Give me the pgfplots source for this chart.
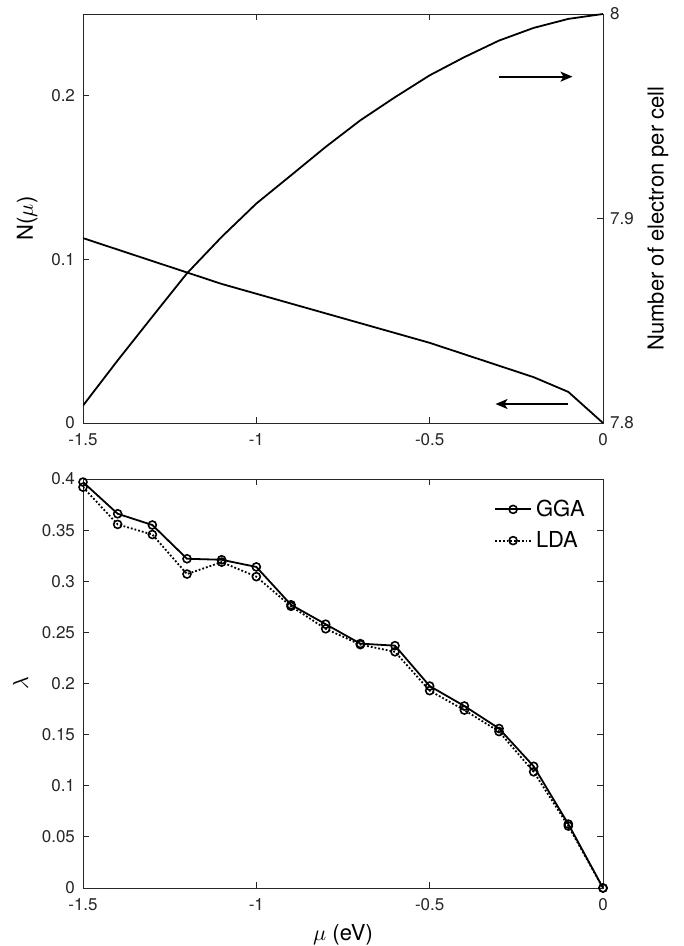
\documentclass[border=0pt]{standalone}
\usepackage{pgfplots}
\pgfplotsset{compat=1.18}
\usepackage{fontspec}
\setmainfont{TeX Gyre Heros}
\usetikzlibrary{arrows.meta}
\definecolor{axgray}{gray}{0.15}

\pgfplotsset{
  mystyle/.style={
    scale only axis, width=260pt, height=204.5pt,
    xmin=-1.5, xmax=0,
    xtick={-1.5,-1,-0.5,0},
    tick align=inside,
    major tick length=3pt,
    axis line style={axgray, line width=0.45pt},
    every tick/.style={axgray, line width=0.45pt},
    tick label style={font=\fontsize{8.5}{10}\selectfont, text=axgray},
    xticklabel style={yshift=-1.5pt},
    yticklabel style={xshift=-0.5pt},
    label style={font=\fontsize{11}{13}\selectfont},
    /pgf/number format/assume math mode=true,
  }
}

\begin{document}
\begin{tikzpicture}
\useasboundingbox (-41.5pt,-29pt) rectangle (300.5pt,444pt);

% ---------- top panel, left axis ----------
\begin{axis}[mystyle, at={(0pt,232.5pt)}, anchor=south west,
  ymin=0, ymax=0.25, ytick={0,0.1,0.2},
  ytick pos=left, xtick pos=both, xticklabel pos=bottom,
  ylabel={N($\mu$)}]
\addplot[black, line width=0.9pt] coordinates {
(-1.5,0.113) (-1.4,0.106) (-1.3,0.099) (-1.2,0.092) (-1.1,0.085)
(-1.0,0.079) (-0.9,0.073) (-0.8,0.067) (-0.7,0.061) (-0.6,0.055)
(-0.5,0.049) (-0.4,0.042) (-0.3,0.035) (-0.2,0.028) (-0.1,0.019) (0,0)};
\draw[black, line width=0.9pt, -{Stealth[length=6pt,width=5pt,inset=1.5pt]}]
  (axis cs:-0.30,0.2117) -- (axis cs:-0.088,0.2117);
\draw[black, line width=0.9pt, -{Stealth[length=6pt,width=5pt,inset=1.5pt]}]
  (axis cs:-0.10,0.0116) -- (axis cs:-0.31,0.0116);
\end{axis}

% ---------- top panel, right axis ----------
\begin{axis}[mystyle, at={(0pt,232.5pt)}, anchor=south west,
  ymin=7.8, ymax=8, ytick={7.8,7.9,8},
  axis y line*=right, axis x line=none,
  yticklabel style={xshift=0.5pt},
  ylabel={Number of electron per cell}]
\addplot[black, line width=0.9pt] coordinates {
(-1.5,7.8085) (-1.4,7.8306) (-1.3,7.852) (-1.2,7.8732) (-1.1,7.891)
(-1.0,7.9073) (-0.9,7.9211) (-0.8,7.935) (-0.7,7.948) (-0.6,7.9593)
(-0.5,7.970) (-0.4,7.9789) (-0.3,7.987) (-0.2,7.9932) (-0.1,7.9976) (0,8.0)};
\end{axis}

% ---------- bottom panel ----------
\begin{axis}[mystyle, at={(0pt,0pt)}, anchor=south west,
  ymin=0, ymax=0.4,
  ytick={0,0.05,0.1,0.15,0.2,0.25,0.3,0.35,0.4},
  yticklabels={0,0.05,0.1,0.15,0.2,0.25,0.3,0.35,0.4},
  xtick pos=both, ytick pos=both, xticklabel pos=bottom, yticklabel pos=left,
  xlabel={$\mu$ (eV)}, ylabel={$\lambda$},
  legend style={draw=none, fill=none, at={(0.985,0.97)}, anchor=north east,
    font=\fontsize{11}{13}\selectfont, row sep=2pt},
  legend cell align=left,
  legend image code/.code={\draw[mark repeat=2,mark phase=2,#1]
    plot coordinates {(0pt,0pt)(9pt,0pt)(18pt,0pt)};}]
\addplot[black, line width=0.9pt, mark=o, mark size=2pt,
  mark options={solid, line width=0.8pt}] coordinates {
(-1.5,0.397) (-1.4,0.366) (-1.3,0.355) (-1.2,0.322) (-1.1,0.321)
(-1.0,0.314) (-0.9,0.277) (-0.8,0.258) (-0.7,0.239) (-0.6,0.237)
(-0.5,0.1975) (-0.4,0.178) (-0.3,0.156) (-0.2,0.119) (-0.1,0.0625) (0,0)};
\addlegendentry{GGA}
\addplot[black, line width=0.9pt, densely dotted, mark=o, mark size=2pt,
  mark options={solid, line width=0.8pt}] coordinates {
(-1.5,0.392) (-1.4,0.3556) (-1.3,0.3457) (-1.2,0.307) (-1.1,0.3187)
(-1.0,0.3045) (-0.9,0.2755) (-0.8,0.2535) (-0.7,0.238) (-0.6,0.231)
(-0.5,0.193) (-0.4,0.174) (-0.3,0.153) (-0.2,0.1136) (-0.1,0.0606) (0,0)};
\addlegendentry{LDA}
\end{axis}
\end{tikzpicture}
\end{document}
